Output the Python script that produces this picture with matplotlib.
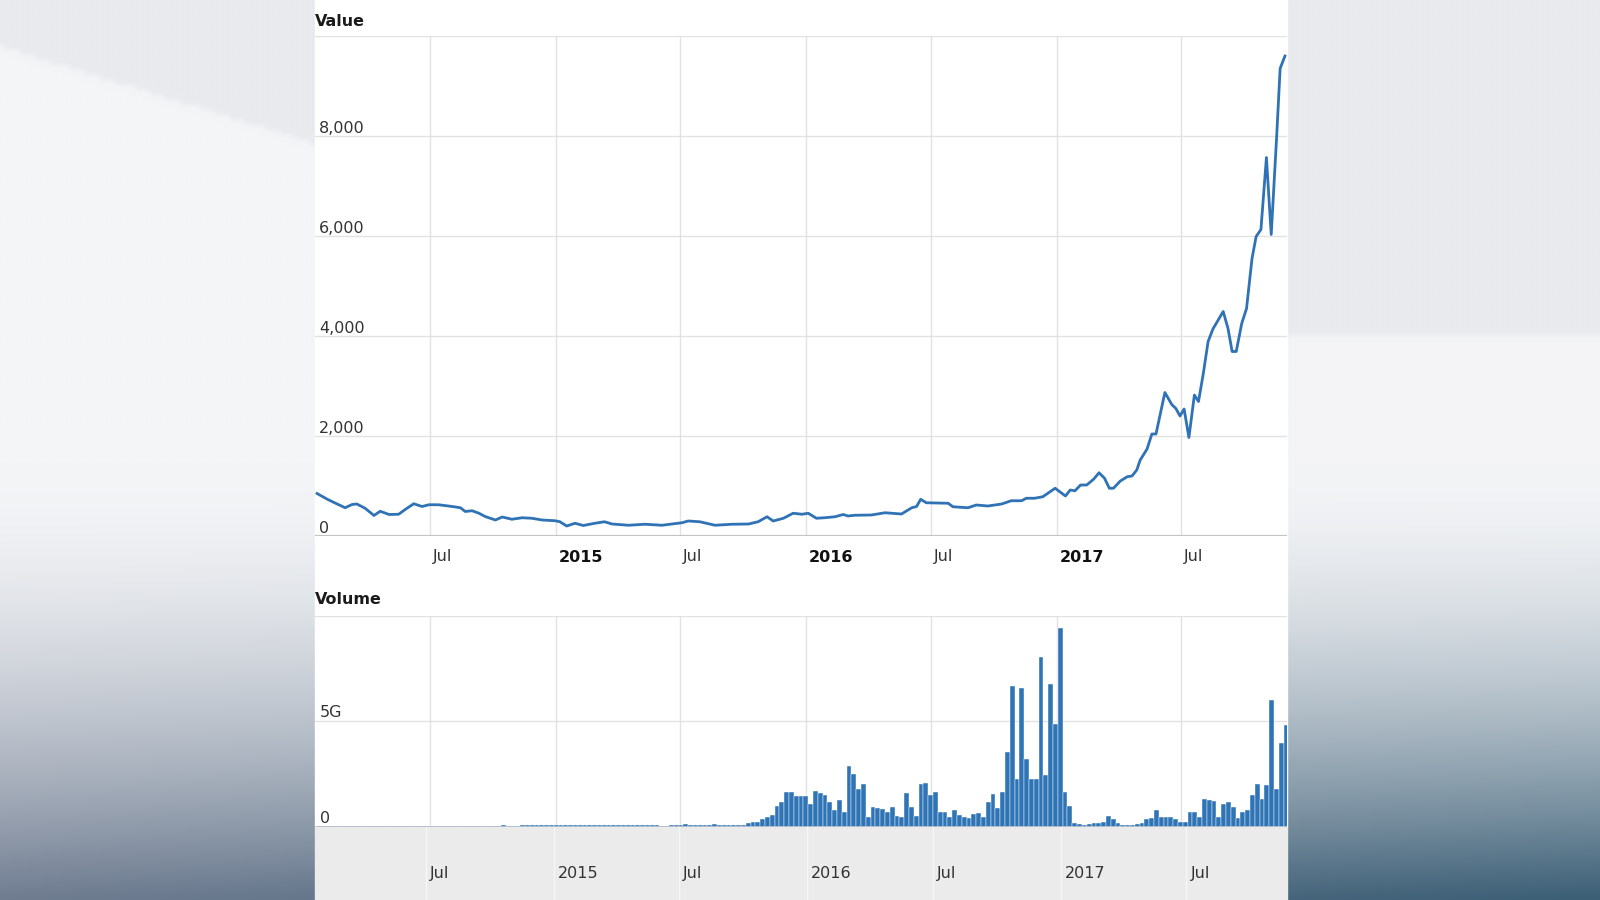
import matplotlib
matplotlib.use("Agg")
import matplotlib.pyplot as plt
import matplotlib.dates as mdates
from matplotlib.patches import Rectangle
from matplotlib.transforms import offset_copy
import numpy as np
import pandas as pd

plt.rcParams["font.family"] = ["DejaVu Sans"]

# Kurs (USD)
price_dates = [
    "2014-01-18", "2014-02-02", "2014-02-14", "2014-02-28", "2014-03-10", "2014-03-17",
    "2014-03-29", "2014-04-11", "2014-04-20", "2014-05-03", "2014-05-17", "2014-05-27",
    "2014-06-08", "2014-06-20", "2014-06-30", "2014-07-14", "2014-08-03", "2014-08-15",
    "2014-08-22", "2014-09-01", "2014-09-11", "2014-09-20", "2014-10-05", "2014-10-15",
    "2014-10-29", "2014-11-13", "2014-11-27", "2014-12-12", "2014-12-31", "2015-01-07",
    "2015-01-17", "2015-01-29", "2015-02-10", "2015-02-27", "2015-03-13", "2015-03-24",
    "2015-04-17", "2015-05-11", "2015-06-05", "2015-07-04", "2015-07-13", "2015-07-30",
    "2015-08-21", "2015-09-15", "2015-10-09", "2015-10-23", "2015-11-05", "2015-11-14",
    "2015-11-29", "2015-12-13", "2015-12-26", "2016-01-04", "2016-01-16", "2016-01-28",
    "2016-02-12", "2016-02-24", "2016-03-02", "2016-03-12", "2016-04-05", "2016-04-25",
    "2016-05-19", "2016-06-03", "2016-06-10", "2016-06-16", "2016-06-24", "2016-07-09",
    "2016-07-26", "2016-08-02", "2016-08-24", "2016-09-05", "2016-09-22", "2016-10-12",
    "2016-10-26", "2016-11-10", "2016-11-17", "2016-11-29", "2016-12-11", "2016-12-29",
    "2017-01-13", "2017-01-20", "2017-01-27", "2017-02-04", "2017-02-13", "2017-02-23",
    "2017-03-03", "2017-03-11", "2017-03-18", "2017-03-24", "2017-04-03", "2017-04-13",
    "2017-04-20", "2017-04-27", "2017-05-02", "2017-05-12", "2017-05-19", "2017-05-25",
    "2017-06-07", "2017-06-17", "2017-06-23", "2017-06-29", "2017-07-05", "2017-07-12",
    "2017-07-20", "2017-07-26", "2017-08-02", "2017-08-09", "2017-08-16", "2017-08-31",
    "2017-09-07", "2017-09-13", "2017-09-19", "2017-09-27", "2017-10-04", "2017-10-12",
    "2017-10-18", "2017-10-25", "2017-11-02", "2017-11-09", "2017-11-17", "2017-11-22",
    "2017-11-29",
]
price_values = [
    850, 735, 655, 565, 630, 640,
    555, 410, 495, 430, 435, 535,
    645, 590, 625, 625, 590, 565,
    490, 505, 455, 390, 320, 380,
    335, 365, 355, 320, 305, 285,
    200, 255, 210, 255, 285, 240,
    215, 235, 215, 265, 300, 285,
    215, 235, 240, 285, 385, 300,
    355, 455, 435, 455, 355, 365,
    385, 430, 400, 415, 420, 465,
    440, 565, 590, 735, 665, 660,
    655, 585, 565, 620, 600, 640,
    705, 705, 755, 755, 785, 955,
    800, 920, 905, 1020, 1020, 1135,
    1265, 1155, 955, 955, 1100, 1185,
    1200, 1320, 1520, 1740, 2040, 2040,
    2870, 2630, 2550, 2400, 2540, 1970,
    2820, 2690, 3250, 3890, 4140, 4490,
    4150, 3690, 3690, 4250, 4550, 5550,
    5990, 6130, 7570, 6030, 8010, 9350,
    9600,
]

# Handelsvolumen pro Woche (in Mrd.), Wochen ab Montag 2014-01-20
volume_start = "2014-01-20"
volume_g = [
    # 2014
    0.02, 0.02, 0.02, 0.02, 0.02, 0.02, 0.02, 0.02, 0.02, 0.02,
    0.02, 0.02, 0.02, 0.02, 0.02, 0.02, 0.02, 0.02, 0.02, 0.02,
    0.02, 0.02, 0.02, 0.02, 0.02, 0.02, 0.02, 0.02, 0.02, 0.02,
    0.02, 0.02, 0.02, 0.02, 0.02, 0.02, 0.02, 0.02, 0.06, 0.02,
    0.02, 0.02, 0.08, 0.08, 0.08, 0.08, 0.08, 0.08, 0.08, 0.08,
    # 2015
    0.08, 0.08, 0.08, 0.08, 0.08, 0.08, 0.08, 0.08, 0.08, 0.08,
    0.08, 0.08, 0.08, 0.08, 0.08, 0.08, 0.08, 0.08, 0.08, 0.08,
    0.08, 0.02, 0.02, 0.07, 0.07, 0.07, 0.13, 0.07, 0.07, 0.07,
    0.07, 0.07, 0.12, 0.07, 0.07, 0.07, 0.07, 0.07, 0.07, 0.19,
    0.24, 0.24, 0.37, 0.45, 0.56, 0.96, 1.15, 1.65, 1.63, 1.44,
    # ab Dezember 2015
    1.47, 1.44, 1.09, 1.68, 1.60, 1.49, 1.17, 0.80, 1.25, 0.72,
    2.90, 2.48, 1.79, 2.03, 0.48, 0.93, 0.88, 0.85, 0.72, 0.93,
    0.51, 0.45, 1.60, 0.93, 0.51, 2.03, 2.08, 1.49, 1.65, 0.69,
    0.72, 0.45, 0.80, 0.56, 0.45, 0.40, 0.59, 0.64, 0.48, 1.15,
    1.57, 0.88, 1.65, 3.55, 6.68, 2.24, 6.55, 3.23, 2.28, 2.24,
    8.04, 2.43, 6.74, 4.87, 9.42, 1.65, 1.00, 0.16, 0.13, 0.10,
    0.13, 0.16, 0.19, 0.24, 0.51, 0.35, 0.16, 0.08, 0.06, 0.10,
    0.13, 0.16, 0.37, 0.40, 0.80, 0.48, 0.48, 0.48, 0.35, 0.24,
    0.24, 0.72, 0.69, 0.45, 1.31, 1.25, 1.23, 0.48, 1.09, 1.15,
    0.93, 0.40, 0.72, 0.80, 1.52, 2.03, 1.31, 2.00, 5.99, 1.79,
    3.99, 4.82,
]

price_ticks = [0, 2000, 4000, 6000, 8000, 10000]
volume_ticks = [0, 5, 10]
volume_tick_labels = ["0", "5G"]
grid_dates = ["2014-07-01", "2015-01-01", "2015-07-01", "2016-01-01",
              "2016-07-01", "2017-01-01", "2017-07-01"]
grid_labels = ["Jul", "2015", "Jul", "2016", "Jul", "2017", "Jul"]

LINE_BLUE = "#2f72b5"
BAR_BLUE = "#2f75b6"
GRID = "#e2e2e2"
TXT = "#333333"

W, H = 1600, 900
fig = plt.figure(figsize=(16, 9), dpi=100)

# Hintergrund (Studio-Grafik) als weicher Verlauf
gy, gx = np.mgrid[0:1:180j, 0:1:320j]
img = np.ones((180, 320, 3)) * np.array([232, 234, 237]) / 255
band = (gy > 0.05 + 0.55 * gx) & (gx < 0.2)
img[band] = np.array([244, 245, 247]) / 255
lower_right = (gx > 0.8) & (gy > 0.37)
img[lower_right] = np.array([243, 244, 246]) / 255
t = np.clip((gy - 0.52) / 0.48, 0, 1) ** 1.7
dark = (1 - gx)[..., None] * np.array([112, 125, 145]) / 255 + gx[..., None] * np.array([60, 95, 118]) / 255
img = img * (1 - t[..., None]) + dark * t[..., None]

bg = fig.add_axes([0, 0, 1, 1], zorder=0)
bg.imshow(img, extent=[0, W, H, 0], aspect="auto", interpolation="bicubic")
bg.set_xlim(0, W)
bg.set_ylim(H, 0)
bg.axis("off")
bg.add_patch(Rectangle((315, 0), 972, 827, color="white", zorder=2))
bg.add_patch(Rectangle((315, 827), 972, 73, color="#ebebeb", zorder=2))

x0 = mdates.date2num(pd.Timestamp("2014-01-15"))
x1 = mdates.date2num(pd.Timestamp("2017-12-02"))
grid_x = pd.to_datetime(grid_dates)

ax_p = fig.add_axes([315 / W, (H - 536) / H, 972 / W, 500 / H], zorder=3)
ax_v = fig.add_axes([315 / W, (H - 826.7) / H, 972 / W, 211 / H], zorder=3)
ax_n = fig.add_axes([315 / W, 0, 972 / W, 73 / H], zorder=3)

for ax in (ax_p, ax_v, ax_n):
    ax.set_facecolor("none")
    for s in ax.spines.values():
        s.set_visible(False)
    ax.tick_params(length=0, labelbottom=False, labelleft=False)
    ax.set_xlim(x0, x1)

# --- Kursverlauf ---
ax_p.set_ylim(0, 10000)
ax_p.set_yticks(price_ticks)
ax_p.set_xticks(grid_x)
ax_p.grid(True, color=GRID, lw=1.0)
ax_p.axhline(0, color="#c4c4c4", lw=1.6, zorder=2)
ax_p.plot(pd.to_datetime(price_dates), price_values, color=LINE_BLUE, lw=2.0,
          solid_joinstyle="round", zorder=3)

lab_tr = offset_copy(ax_p.get_yaxis_transform(), fig=fig, x=4, y=0, units="dots")
for v in price_ticks[:-1]:
    ax_p.text(0, v, f"{v:,}", transform=lab_tr, ha="left", va="bottom",
              fontsize=11.5, color=TXT)

xt = offset_copy(ax_p.get_xaxis_transform(), fig=fig, x=3, y=0, units="dots")
for d, lab in zip(grid_x, grid_labels):
    bold = lab != "Jul"
    ax_p.text(d, -0.042, lab, transform=xt, ha="left", va="center", fontsize=11.5,
              fontweight="bold" if bold else "normal", color="#111111" if bold else TXT)

fig.text(315 / W, 1 - 21 / H, "Value", ha="left", va="center", fontsize=11.5,
         fontweight="bold", color="#1a1a1a")
fig.text(315 / W, 1 - 599 / H, "Volume", ha="left", va="center", fontsize=11.5,
         fontweight="bold", color="#1a1a1a")

# --- Volumen ---
vol_dates = pd.date_range(volume_start, periods=len(volume_g), freq="7D")
ax_v.set_ylim(0, 10)
ax_v.set_yticks(volume_ticks)
ax_v.set_xticks(grid_x)
ax_v.grid(True, color=GRID, lw=1.0)
ax_v.bar(vol_dates, volume_g, width=7, align="edge", color=BAR_BLUE,
         edgecolor="white", linewidth=0.3, zorder=3)
ax_v.axhline(0, color="#bcc3cc", lw=1.2, zorder=4)

vt = offset_copy(ax_v.get_yaxis_transform(), fig=fig, x=5, y=1, units="dots")
for v, lab in zip(volume_ticks, volume_tick_labels):
    ax_v.text(0, v, lab, transform=vt, ha="left", va="bottom", fontsize=11.5, color=TXT)

# --- Navigator-Leiste ---
ax_n.set_xlim(mdates.date2num(pd.Timestamp("2014-01-22")),
              mdates.date2num(pd.Timestamp("2017-11-23")))
ax_n.set_ylim(0, 1)
for d in grid_x:
    ax_n.axvline(d, color="#f6f6f6", lw=1.0)
nt = offset_copy(ax_n.get_xaxis_transform(), fig=fig, x=4, y=0, units="dots")
for d, lab in zip(grid_x, grid_labels):
    ax_n.text(d, 0.36, lab, transform=nt, ha="left", va="center", fontsize=11.5, color=TXT)

fig.savefig("out.png", dpi=100)
